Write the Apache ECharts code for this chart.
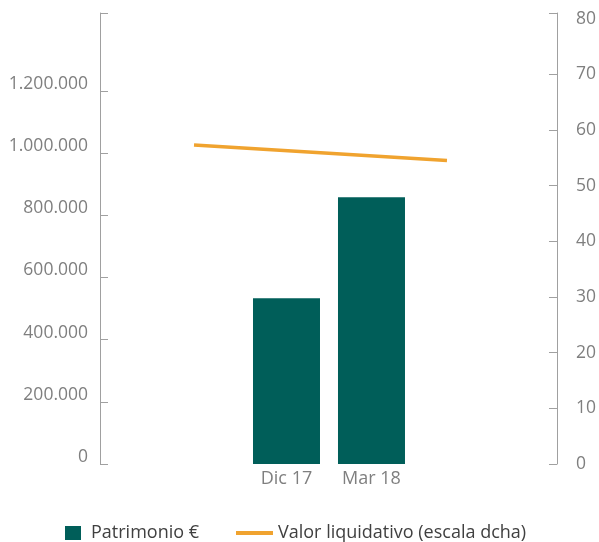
<!DOCTYPE html>
<html>
<head>
<meta charset="utf-8">
<script src="https://cdn.jsdelivr.net/npm/echarts@6/dist/echarts.min.js"></script>
<style>html,body{margin:0;padding:0;background:#fff}#c{width:599px;height:542px}</style>
</head>
<body>
<div id="c"></div>
<script>
var categories = ['Dic 17', 'Mar 18'];
var patrimonio = [533000, 858000];
var valorLiquidativo = [57.3, 54.5];
var leftLabels = [0, 200000, 400000, 600000, 800000, 1000000, 1200000];
var leftMax = 1450000;
var rightLabels = [0, 10, 20, 30, 40, 50, 60, 70, 80];
var rightMax = 81;

var FONT = '"Open Sans", sans-serif';
var AXIS_GRAY = '#a0a0a0';
var LABEL_GRAY = '#7f7f7f';

function fmtThousands(v) {
  return String(v).replace(/\B(?=(\d{3})+(?!\d))/g, '.');
}

var chart = echarts.init(document.getElementById('c'), null, {renderer: 'canvas'});
chart.setOption({
  animation: false,
  backgroundColor: '#fff',
  textStyle: {fontFamily: FONT},
  grid: [
    {left: 244, right: 185, top: 13, bottom: 78},
    {left: 194, right: 152, top: 13, bottom: 78}
  ],
  legend: [
    {
      data: ['Patrimonio €'],
      left: 65, top: 524,
      icon: 'rect', itemWidth: 16, itemHeight: 14,
      textStyle: {color: '#404040', fontSize: 18, fontFamily: FONT, padding: [0, 0, 0, 5]},
      padding: 0, selectedMode: false
    },
    {
      data: ['Valor liquidativo (escala dcha)'],
      left: 236, top: 524,
      icon: 'rect', itemWidth: 37, itemHeight: 4,
      textStyle: {color: '#404040', fontSize: 18, fontFamily: FONT},
      padding: 0, selectedMode: false
    }
  ],
  xAxis: [
    {
      type: 'category', gridIndex: 0, data: categories,
      axisLine: {show: false}, axisTick: {show: false},
      axisLabel: {color: LABEL_GRAY, fontSize: 18, fontFamily: FONT, margin: 6}
    },
    {
      type: 'category', gridIndex: 1, data: categories, boundaryGap: false, show: false
    }
  ],
  yAxis: [
    {
      type: 'value', gridIndex: 0, position: 'left', offset: 144,
      min: 0, max: leftMax,
      splitLine: {show: false},
      axisLine: {show: true, lineStyle: {color: AXIS_GRAY, width: 1}},
      axisTick: {show: true, inside: true, length: 8, lineStyle: {color: AXIS_GRAY},
        customValues: leftLabels.concat([leftMax])},
      axisLabel: {
        color: LABEL_GRAY, fontSize: 17.5, fontFamily: FONT, margin: 12,
        verticalAlign: 'bottom', lineHeight: 14,
        customValues: leftLabels,
        formatter: function (v) { return fmtThousands(v); }
      }
    },
    {
      type: 'value', gridIndex: 0, position: 'right', offset: 143,
      min: 0, max: rightMax,
      splitLine: {show: false},
      axisLine: {show: true, lineStyle: {color: AXIS_GRAY, width: 1}},
      axisTick: {show: true, inside: true, length: 8, lineStyle: {color: AXIS_GRAY},
        customValues: rightLabels.slice(0, rightLabels.length - 1).concat([rightMax])},
      axisLabel: {
        color: LABEL_GRAY, fontSize: 17.5, fontFamily: FONT, margin: 19,
        customValues: rightLabels,
        formatter: function (v) { return String(v); }
      }
    },
    {
      type: 'value', gridIndex: 1, min: 0, max: rightMax, show: false
    }
  ],
  series: [
    {
      name: 'Patrimonio €', type: 'bar', xAxisIndex: 0, yAxisIndex: 0,
      data: patrimonio, barWidth: 67,
      itemStyle: {color: '#005e59'}
    },
    {
      name: 'Valor liquidativo (escala dcha)', type: 'line', xAxisIndex: 1, yAxisIndex: 2,
      data: valorLiquidativo, showSymbol: false, symbol: 'none',
      lineStyle: {color: '#f0a32f', width: 3.5},
      itemStyle: {color: '#f0a32f'}
    }
  ]
});
</script>
</body>
</html>
